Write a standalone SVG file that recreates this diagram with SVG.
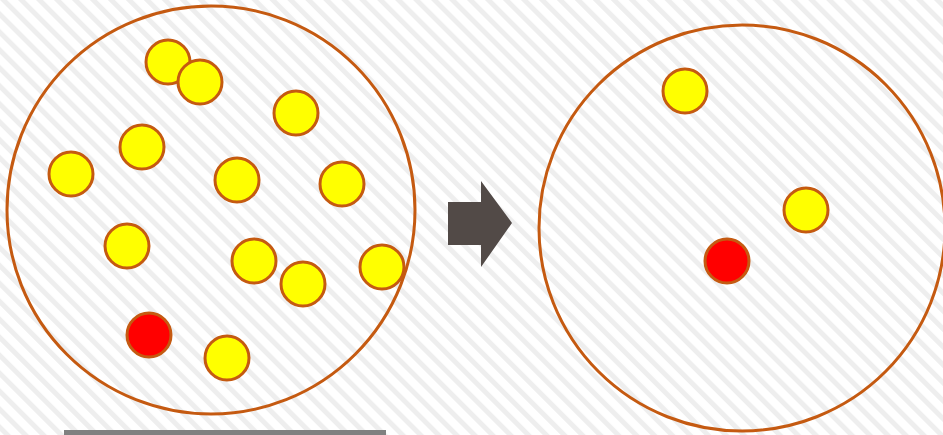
<svg xmlns="http://www.w3.org/2000/svg" width="943" height="435" viewBox="0 0 943 435">
<defs>
<pattern id="stripes" width="12.7" height="12.7" patternUnits="userSpaceOnUse" patternTransform="rotate(-45)">
<rect width="12.7" height="12.7" fill="#ffffff"/>
<rect x="0" y="0" width="5" height="12.7" fill="#eeeeee"/>
</pattern>
<style>
.big{fill:none;stroke:#C55A11;stroke-width:3}
.y{fill:#FFFF00;stroke:#C55A11;stroke-width:3}
.r{fill:#FF0000;stroke:#C55A11;stroke-width:3}
</style>
</defs>
<rect width="943" height="435" fill="url(#stripes)"/>
<g id="left-container"><circle class="big" cx="211" cy="210" r="204"/></g>
<g id="left-particles">
<circle class="y" cx="168" cy="62" r="22"/>
<circle class="y" cx="200" cy="82" r="22"/>
<circle class="y" cx="296" cy="113" r="22"/>
<circle class="y" cx="142" cy="147" r="22"/>
<circle class="y" cx="71" cy="174" r="22"/>
<circle class="y" cx="237" cy="180" r="22"/>
<circle class="y" cx="342" cy="184" r="22"/>
<circle class="y" cx="127" cy="246" r="22"/>
<circle class="y" cx="254" cy="261" r="22"/>
<circle class="y" cx="303" cy="284" r="22"/>
<circle class="y" cx="382" cy="267" r="22"/>
<circle class="r" cx="149" cy="335" r="22"/>
<circle class="y" cx="227" cy="358" r="22"/>
</g>
<g id="arrow"><polygon points="448,202 481,202 481,181 512,223 481,267 481,245 448,245" fill="#524A47"/></g>
<g id="right-container"><circle class="big" cx="742" cy="228" r="203"/></g>
<g id="right-particles">
<circle class="y" cx="685" cy="91" r="22"/>
<circle class="y" cx="806" cy="210" r="22"/>
<circle class="r" cx="727" cy="261" r="22"/>
</g>
<g id="bar"><rect x="64" y="430" width="322" height="5" fill="#808080"/></g>
</svg>
